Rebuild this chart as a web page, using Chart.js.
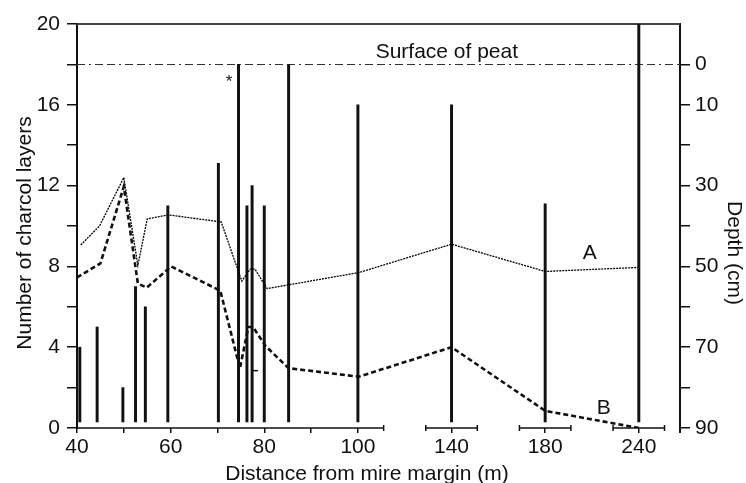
<!DOCTYPE html>
<html>
<head>
<meta charset="utf-8">
<script src="https://cdn.jsdelivr.net/npm/chart.js@4.4.0/dist/chart.umd.min.js"></script>
<style>
  body { margin: 0; background: #fff; }
  #chart { display: block; }
</style>
</head>
<body>
<canvas id="chart" width="746" height="483"></canvas>
<script>
// charcoal layer counts per core (vertical lines)
const barDist = [40.6, 44.3, 49.8, 52.5, 54.6, 59.4, 70.2, 74.5, 76.3, 77.4, 80, 85.2, 100, 140, 180, 240];
const barTop = [4, 5, 2, 7, 6, 11, 13.1, 18, 11, 12, 11, 18, 16, 16, 11.1, 20];
const barBase = 0.3;

// line A (thin) and line B (thick dashed)
const lineADist = [40.8, 44.8, 50, 53, 55, 59.5, 70.8, 75.2, 77, 78, 80.6, 100.3, 140, 180, 240];
const lineA = [9.06, 10.0, 12.4, 8.05, 10.35, 10.55, 10.2, 7.27, 7.87, 7.87, 6.9, 7.7, 9.1, 7.75, 7.95];
const lineBDist = [40, 45, 50, 53, 54.9, 60.1, 70.6, 74.8, 76.6, 77.6, 80.3, 85.2, 100.2, 140, 180, 240];
const lineB = [7.45, 8.15, 11.95, 7.15, 6.95, 8.0, 6.8, 2.95, 5.0, 5.0, 4.05, 2.96, 2.54, 4.0, 0.85, 0];

// small dash mark below the B dip
const markDist = [77.9];
const markY = [2.84];

// surface of peat sits at 18 on the left axis, depth 0 cm
const surfaceLevel = 18;
const cmPerUnit = 5;

// distances past 100 m are drawn on a broken axis
const breakDist = [140, 180, 240];
const breakPos = [120, 140, 160];
const toAxis = d => breakDist.includes(d) ? breakPos[breakDist.indexOf(d)] : d;

// tick labels
const xTickPos = [40, 50, 60, 70, 80, 90, 100, 120, 140, 160];
const xTickLabels = ['40', '', '60', '', '80', '', '100', '140', '180', '240'];
const depthTicks = [0, 10, 20, 30, 40, 50, 60, 70, 80, 90];
const depthLabels = ['0', '10', '', '30', '', '50', '', '70', '', '90'];

const FONT = 'Liberation Sans, Arial, Helvetica, sans-serif';
const INK = '#111';

// annotation texts placed in data units
const notes = [
  { text: 'Surface of peat', x: 119, y: 18.6, size: 21 },
  { text: '*', x: 72.5, y: 17.1, size: 17 },
  { text: 'A', x: 149.5, y: 8.66, size: 21 },
  { text: 'B', x: 152.5, y: 0.99, size: 21 }
];

const decor = {
  id: 'decor',
  beforeDatasetsDraw(chart) {
    const { ctx, chartArea: a, scales: { y } } = chart;
    ctx.save();
    // top frame line
    ctx.strokeStyle = '#444';
    ctx.lineWidth = 2;
    ctx.beginPath();
    ctx.moveTo(a.left, a.top);
    ctx.lineTo(a.right, a.top);
    ctx.stroke();
    // dash-dot line for the peat surface
    const ys = Math.round(y.getPixelForValue(surfaceLevel)) + 0.5;
    ctx.strokeStyle = '#333';
    ctx.lineWidth = 1;
    ctx.setLineDash([8, 4, 2, 4, 8, 4]);
    ctx.beginPath();
    ctx.moveTo(a.left, ys);
    ctx.lineTo(a.right, ys);
    ctx.stroke();
    ctx.restore();
  },
  afterDraw(chart) {
    const { ctx, chartArea: a, scales: { x, y } } = chart;
    ctx.save();
    ctx.fillStyle = INK;
    ctx.strokeStyle = INK;

    // broken x axis: one long piece then short pieces around each far tick
    const pieces = [[40, 105.5]].concat(breakPos.map(p => [p - 5.5, p + 5.5]));
    const yb = a.bottom;
    ctx.lineWidth = 1.5;
    pieces.forEach(([s, e], i) => {
      const x0 = x.getPixelForValue(s), x1 = x.getPixelForValue(e);
      ctx.beginPath();
      ctx.moveTo(x0, yb);
      ctx.lineTo(x1, yb);
      ctx.stroke();
      ctx.beginPath();
      if (i > 0) {
        ctx.moveTo(x0, yb - 3);
        ctx.lineTo(x0, yb + 3);
      }
      ctx.moveTo(x1, yb - 3);
      ctx.lineTo(x1, yb + 3);
      ctx.stroke();
    });
    // right axis runs a little below the frame
    ctx.lineWidth = 2;
    ctx.beginPath();
    ctx.moveTo(a.right, yb);
    ctx.lineTo(a.right, yb + 5);
    ctx.stroke();

    // annotations
    ctx.textAlign = 'center';
    ctx.textBaseline = 'middle';
    notes.forEach(n => {
      ctx.font = `${n.size}px ${FONT}`;
      ctx.fillText(n.text, x.getPixelForValue(n.x), y.getPixelForValue(n.y));
    });

    // axis titles
    ctx.font = `21px ${FONT}`;
    ctx.textBaseline = 'alphabetic';
    ctx.fillText('Distance from mire margin (m)', 367, 480);

    ctx.save();
    ctx.translate(31, 233);
    ctx.rotate(-Math.PI / 2);
    ctx.fillText('Number of charcol layers', 0, 0);
    ctx.restore();

    ctx.save();
    ctx.translate(728, 253);
    ctx.rotate(Math.PI / 2);
    ctx.fillText('Depth (cm)', 0, 0);
    ctx.restore();

    ctx.restore();
  }
};

new Chart(document.getElementById('chart'), {
  type: 'line',
  data: {
    datasets: [
      {
        type: 'bar',
        data: barDist.map((d, i) => ({ x: toAxis(d), y: [barBase, barTop[i]] })),
        backgroundColor: INK,
        barThickness: 2.3,
        order: 3
      },
      {
        data: lineADist.map((d, i) => ({ x: toAxis(d), y: lineA[i] })),
        borderColor: '#000',
        borderWidth: 1.3,
        borderDash: [2, 1],
        pointRadius: 0,
        tension: 0,
        order: 2
      },
      {
        data: lineBDist.map((d, i) => ({ x: toAxis(d), y: lineB[i] })),
        borderColor: INK,
        borderWidth: 2.6,
        borderDash: [5, 3],
        pointRadius: 0,
        tension: 0,
        order: 1
      },
      {
        type: 'scatter',
        data: markDist.map((d, i) => ({ x: toAxis(d), y: markY[i] })),
        pointStyle: 'line',
        pointRadius: 3.5,
        borderColor: INK,
        borderWidth: 1.5,
        order: 0
      }
    ]
  },
  options: {
    responsive: false,
    animation: false,
    devicePixelRatio: 1,
    layout: { padding: { top: 24 } },
    plugins: {
      legend: { display: false },
      tooltip: { enabled: false }
    },
    scales: {
      x: {
        type: 'linear',
        min: 40,
        max: 168.8,
        offset: false,
        afterBuildTicks: s => { s.ticks = xTickPos.map(v => ({ value: v })); },
        afterFit: s => { s.height = 55; },
        border: { display: false },
        grid: { offset: false, drawOnChartArea: false, tickLength: 5, color: INK, lineWidth: 1.5 },
        ticks: {
          autoSkip: false,
          maxRotation: 0,
          padding: 2,
          color: INK,
          font: { family: FONT, size: 21 },
          callback: v => xTickLabels[xTickPos.indexOf(v)]
        }
      },
      y: {
        position: 'left',
        min: 0,
        max: 20,
        afterFit: s => { s.width = 77; },
        border: { color: INK, width: 2 },
        grid: { drawOnChartArea: false, tickLength: 10, color: INK, lineWidth: 1.5 },
        ticks: {
          stepSize: 2,
          padding: 7,
          color: INK,
          font: { family: FONT, size: 21 },
          callback: v => v % 4 === 0 ? v : ''
        }
      },
      y2: {
        position: 'right',
        min: 0,
        max: 20,
        afterBuildTicks: s => { s.ticks = depthTicks.map(d => ({ value: surfaceLevel - d / cmPerUnit })); },
        afterFit: s => { s.width = 66; },
        border: { color: INK, width: 2 },
        grid: { drawOnChartArea: false, tickLength: 10, color: INK, lineWidth: 1.5 },
        ticks: {
          padding: 5,
          color: INK,
          font: { family: FONT, size: 21 },
          callback: v => depthLabels[depthTicks.indexOf(Math.round((surfaceLevel - v) * cmPerUnit))]
        }
      }
    }
  },
  plugins: [decor]
});
</script>
</body>
</html>
